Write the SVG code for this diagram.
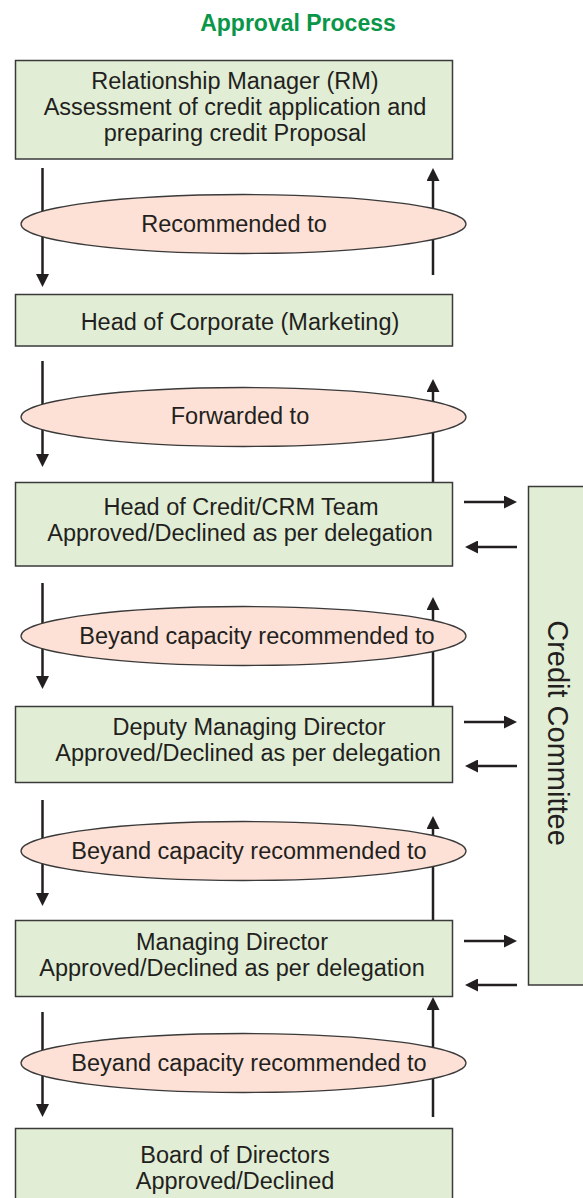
<svg xmlns="http://www.w3.org/2000/svg" width="583" height="1198" viewBox="0 0 583 1198">
<defs>
<style>
.box{fill:#e1eed5;stroke:#3a3a3a;stroke-width:1.5}
.oval{fill:#fde1d6;stroke:#3a3a3a;stroke-width:1.3}
.t{font-family:"Liberation Sans",Arial,sans-serif;font-size:23.5px;fill:#231f20;text-anchor:middle}
.title{font-family:"Liberation Sans",Arial,sans-serif;font-size:23px;font-weight:bold;fill:#0a9648;text-anchor:middle}
.cc{font-family:"Liberation Sans",Arial,sans-serif;font-size:29px;fill:#231f20;text-anchor:middle}
.ar{stroke:#231f20;stroke-width:2.5;fill:none;marker-end:url(#ah)}
</style>
<marker id="ah" viewBox="0 0 13 13" refX="9" refY="6.5" markerWidth="13" markerHeight="13" markerUnits="userSpaceOnUse" orient="auto">
<path d="M0,0 L13,6.5 L0,13 z" fill="#231f20"/>
</marker>
</defs>
<text class="title" x="298" y="31">Approval Process</text>
<g id="connectors">
<line class="ar" x1="42.5" y1="168" x2="42.5" y2="283"/>
<line class="ar" x1="433" y1="275" x2="433" y2="172"/>
<line class="ar" x1="42.5" y1="361" x2="42.5" y2="463"/>
<line class="ar" x1="433" y1="482" x2="433" y2="383"/>
<line class="ar" x1="42.5" y1="583" x2="42.5" y2="685"/>
<line class="ar" x1="433" y1="706" x2="433" y2="601"/>
<line class="ar" x1="42.5" y1="800" x2="42.5" y2="902"/>
<line class="ar" x1="433" y1="920" x2="433" y2="820"/>
<line class="ar" x1="42.5" y1="1012" x2="42.5" y2="1113"/>
<line class="ar" x1="433" y1="1117" x2="433" y2="1001"/>
<line class="ar" x1="464" y1="502" x2="513" y2="502"/>
<line class="ar" x1="517" y1="547" x2="469" y2="547"/>
<line class="ar" x1="464" y1="722" x2="513" y2="722"/>
<line class="ar" x1="517" y1="766" x2="469" y2="766"/>
<line class="ar" x1="464" y1="941" x2="513" y2="941"/>
<line class="ar" x1="517" y1="985" x2="469" y2="985"/>
</g>
<g id="rm">
<rect class="box" x="15.5" y="60.5" width="437" height="98.5"/>
<text class="t" x="235" y="89">Relationship Manager (RM)</text>
<text class="t" x="235" y="115">Assessment of credit application and</text>
<text class="t" x="235" y="141">preparing credit Proposal</text>
</g>
<g id="e1">
<ellipse class="oval" cx="243.5" cy="224" rx="222.5" ry="29.5"/>
<text class="t" x="234" y="232">Recommended to</text>
</g>
<g id="hoc">
<rect class="box" x="15.5" y="294.5" width="437" height="51.5"/>
<text class="t" x="240" y="330">Head of Corporate (Marketing)</text>
</g>
<g id="e2">
<ellipse class="oval" cx="243.5" cy="417" rx="222.5" ry="29.5"/>
<text class="t" x="240" y="424">Forwarded to</text>
</g>
<g id="hcr">
<rect class="box" x="15.5" y="482.5" width="437" height="83.5"/>
<text class="t" x="241" y="515">Head of Credit/CRM Team</text>
<text class="t" x="240" y="541">Approved/Declined as per delegation</text>
</g>
<g id="e3">
<ellipse class="oval" cx="243.5" cy="636" rx="222.5" ry="29.5"/>
<text class="t" x="257" y="644">Beyand capacity recommended to</text>
</g>
<g id="dmd">
<rect class="box" x="15.5" y="706.5" width="437" height="76"/>
<text class="t" x="249" y="735">Deputy Managing Director</text>
<text class="t" x="248" y="761">Approved/Declined as per delegation</text>
</g>
<g id="e4">
<ellipse class="oval" cx="243.5" cy="851" rx="222.5" ry="29.5"/>
<text class="t" x="249" y="859">Beyand capacity recommended to</text>
</g>
<g id="md">
<rect class="box" x="15.5" y="920.5" width="437" height="76"/>
<text class="t" x="232" y="950">Managing Director</text>
<text class="t" x="232" y="976">Approved/Declined as per delegation</text>
</g>
<g id="e5">
<ellipse class="oval" cx="243.5" cy="1063" rx="222.5" ry="29.5"/>
<text class="t" x="249" y="1071">Beyand capacity recommended to</text>
</g>
<g id="bod">
<rect class="box" x="15.5" y="1128.5" width="437" height="80"/>
<text class="t" x="235" y="1163">Board of Directors</text>
<text class="t" x="235" y="1189">Approved/Declined</text>
</g>
<g id="cc">
<rect class="box" x="528.5" y="486.5" width="60" height="498.5"/>
<text class="cc" transform="translate(548,733) rotate(90)">Credit Committee</text>
</g>
</svg>
